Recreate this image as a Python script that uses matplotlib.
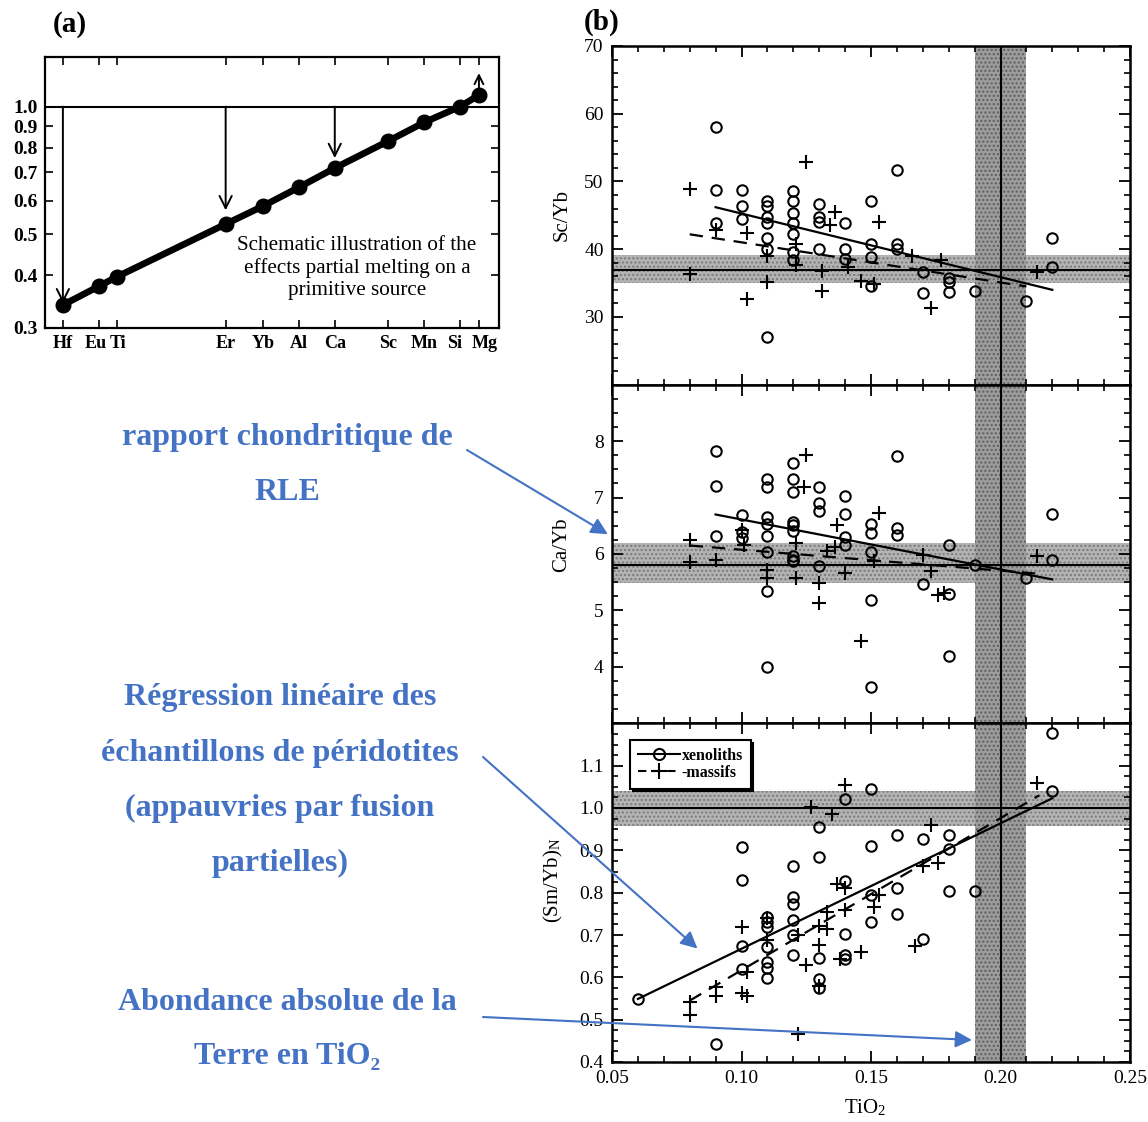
import matplotlib
matplotlib.use('Agg')
import matplotlib.pyplot as plt
import matplotlib.transforms as mtransforms
from matplotlib.lines import Line2D
from matplotlib.ticker import FixedLocator, MultipleLocator, NullLocator, FixedFormatter

plt.rcParams['font.family'] = ['Liberation Serif', 'DejaVu Serif']
plt.rcParams['mathtext.fontset'] = 'stix'
plt.rcParams['hatch.linewidth'] = 1.0

# ---------------- Panel (a) data ----------------
elements = ['Hf', 'Eu', 'Ti', 'Er', 'Yb', 'Al', 'Ca', 'Sc', 'Mn', 'Si', 'Mg']
element_pos = [0, 1.0, 1.47, 4.46, 5.48, 6.47, 7.45, 8.9, 9.9, 10.88, 11.4]
melt_ratio = [0.34, 0.377, 0.396, 0.528, 0.582, 0.645, 0.716, 0.828, 0.918, 1.0, 1.065]
arrow_elements = ['Hf', 'Er', 'Ca']
arrow_tips = [0.343, 0.569, 0.756]
mg_arrow_tip = 1.2
a_yticks = [0.3, 0.4, 0.5, 0.6, 0.7, 0.8, 0.9, 1.0]
a_ylabels = ['0.3', '0.4', '0.5', '0.6', '0.7', '0.8', '0.9', '1.0']

# ---------------- Panel (b) data ----------------
tio2_ref = 0.20
tio2_band = [0.19, 0.21]
x_ticks = [0.05, 0.10, 0.15, 0.20, 0.25]
x_ticklabels = ['0.05', '0.10', '0.15', '0.20', '0.25']

# Sc/Yb
sc_xen_x = [0.09, 0.09, 0.09, 0.10, 0.10, 0.10,
            0.11, 0.11, 0.11, 0.11, 0.11, 0.11, 0.11,
            0.12, 0.12, 0.12, 0.12, 0.12, 0.12, 0.12,
            0.13, 0.13, 0.13, 0.13, 0.14, 0.14, 0.14,
            0.15, 0.15, 0.15, 0.15, 0.16, 0.16, 0.16,
            0.17, 0.17, 0.18, 0.18, 0.18, 0.19, 0.21, 0.22, 0.22]
sc_xen_y = [58.1, 48.7, 43.8, 48.7, 46.4, 44.4,
            47.1, 46.4, 44.7, 43.8, 41.6, 40.1, 27.1,
            48.6, 47.1, 45.3, 43.9, 42.3, 39.6, 38.4,
            46.6, 44.8, 44.0, 40.1, 43.8, 40.0, 38.6,
            47.1, 40.8, 38.8, 34.5, 51.7, 40.8, 40.1,
            36.7, 33.5, 35.7, 35.1, 33.7, 33.9, 32.4, 41.7, 37.3]
sc_mas_x = [0.08, 0.08, 0.09, 0.102, 0.102, 0.11, 0.11, 0.121, 0.121, 0.125, 0.131,
            0.131, 0.134, 0.136, 0.141, 0.146, 0.151, 0.153, 0.166, 0.173, 0.177, 0.214]
sc_mas_y = [48.9, 36.3, 42.8, 42.4, 32.7, 39.0, 35.1, 40.8, 37.6, 52.9, 36.8,
            33.8, 43.6, 45.5, 37.4, 35.3, 34.9, 44.0, 39.0, 31.3, 38.4, 36.7]
sc_xen_fit_x = [0.09, 0.22]
sc_xen_fit_y = [46.2, 34.0]
sc_mas_fit_x = [0.08, 0.21]
sc_mas_fit_y = [42.2, 34.5]
sc_ref = 37.0
sc_band = [35.0, 39.1]
sc_yticks = [30, 40, 50, 60, 70]

# Ca/Yb
ca_xen_x = [0.09, 0.09, 0.09, 0.10, 0.10, 0.10,
            0.11, 0.11, 0.11, 0.11, 0.11, 0.11, 0.11, 0.11,
            0.12, 0.12, 0.12, 0.12, 0.12, 0.12, 0.12, 0.12, 0.12,
            0.13, 0.13, 0.13, 0.13, 0.14, 0.14, 0.14, 0.14,
            0.15, 0.15, 0.15, 0.15, 0.15, 0.16, 0.16, 0.16,
            0.17, 0.18, 0.18, 0.18, 0.19, 0.21, 0.22, 0.22]
ca_xen_y = [7.82, 7.2, 6.32, 6.69, 6.39, 6.28,
            7.33, 7.18, 6.65, 6.53, 6.32, 6.03, 5.34, 4.0,
            7.62, 7.33, 7.1, 6.57, 6.51, 6.41, 5.96, 5.9, 5.87,
            7.18, 6.91, 6.76, 5.78, 7.02, 6.71, 6.31, 6.16,
            6.53, 6.37, 6.03, 5.19, 3.64, 7.73, 6.46, 6.33,
            5.46, 6.16, 5.29, 4.2, 5.8, 5.58, 6.71, 5.9]
ca_mas_x = [0.08, 0.08, 0.09, 0.10, 0.101, 0.11, 0.11, 0.121, 0.121, 0.124, 0.125,
            0.13, 0.13, 0.133, 0.136, 0.137, 0.14, 0.146, 0.151, 0.153, 0.17,
            0.173, 0.176, 0.178, 0.214]
ca_mas_y = [6.25, 5.85, 5.9, 6.43, 6.16, 5.71, 5.58, 6.2, 5.58, 7.18, 7.76,
            5.49, 5.14, 6.05, 6.13, 6.51, 5.66, 4.46, 5.87, 6.72, 5.99,
            5.69, 5.28, 5.31, 5.96]
ca_xen_fit_x = [0.09, 0.22]
ca_xen_fit_y = [6.7, 5.55]
ca_mas_fit_x = [0.08, 0.215]
ca_mas_fit_y = [6.15, 5.65]
ca_ref = 5.8
ca_band = [5.48, 6.2]
ca_yticks = [4, 5, 6, 7, 8]

# (Sm/Yb)N
sm_xen_x = [0.06, 0.09, 0.10, 0.10, 0.10, 0.10,
            0.11, 0.11, 0.11, 0.11, 0.11, 0.11, 0.11,
            0.12, 0.12, 0.12, 0.12, 0.12, 0.12,
            0.13, 0.13, 0.13, 0.13, 0.13,
            0.14, 0.14, 0.14, 0.14, 0.14,
            0.15, 0.15, 0.15, 0.15, 0.16, 0.16, 0.16,
            0.17, 0.17, 0.18, 0.18, 0.18, 0.19, 0.22, 0.22]
sm_xen_y = [0.549, 0.443, 0.908, 0.83, 0.673, 0.62,
            0.742, 0.73, 0.718, 0.671, 0.636, 0.622, 0.598,
            0.864, 0.79, 0.773, 0.735, 0.70, 0.652,
            0.955, 0.885, 0.645, 0.597, 0.575,
            1.021, 0.828, 0.702, 0.653, 0.644,
            1.045, 0.91, 0.794, 0.731, 0.937, 0.812, 0.75,
            0.927, 0.691, 0.937, 0.903, 0.804, 0.804, 1.178, 1.039]
sm_mas_x = [0.08, 0.08, 0.09, 0.09, 0.10, 0.10, 0.102, 0.102, 0.11, 0.11,
            0.122, 0.122, 0.125, 0.127, 0.13, 0.13, 0.13, 0.133, 0.133, 0.135,
            0.137, 0.138, 0.14, 0.14, 0.14, 0.146, 0.151, 0.153, 0.167, 0.17,
            0.173, 0.176, 0.214]
sm_mas_y = [0.512, 0.541, 0.556, 0.577, 0.718, 0.562, 0.612, 0.556, 0.74, 0.688,
            0.70, 0.465, 0.628, 1.002, 0.722, 0.677, 0.58, 0.754, 0.714, 0.985,
            0.82, 0.643, 1.055, 0.81, 0.76, 0.659, 0.766, 0.795, 0.675, 0.864,
            0.96, 0.87, 1.059]
sm_xen_fit_x = [0.06, 0.22]
sm_xen_fit_y = [0.549, 1.023]
sm_mas_fit_x = [0.08, 0.215]
sm_mas_fit_y = [0.545, 1.03]
sm_ref = 1.0
sm_band = [0.957, 1.041]
sm_yticks = [0.4, 0.5, 0.6, 0.7, 0.8, 0.9, 1.0, 1.1]

# annotations
blue = '#4472C4'
note1 = ['rapport chondritique de', 'RLE']
note2 = ['Régression linéaire des', 'échantillons de péridotites',
         '(appauvries par fusion', 'partielles)']
note3 = ['Abondance absolue de la', 'Terre en TiO₂']

W, H = 1148, 1122
fig = plt.figure(figsize=(W / 100, H / 100), dpi=100)


def fx(px):
    return px / W


def fy(py):
    return 1 - py / H


# ---------------- Panel (a) ----------------
axa = fig.add_axes([fx(45), fy(328), fx(499) - fx(45), fy(57) - fy(328)])
axa.set_yscale('log')
axa.set_xlim(-0.49, 11.95)
axa.set_ylim(0.3, 1.31)
axa.axhline(1.0, color='black', lw=1.5, zorder=1)
axa.plot(element_pos, melt_ratio, color='black', lw=4.8, marker='o', ms=10.5,
         mfc='black', mec='black', zorder=3)
for el, tip in zip(arrow_elements, arrow_tips):
    xp = element_pos[elements.index(el)]
    axa.annotate('', xy=(xp, tip), xytext=(xp, 1.0),
                 arrowprops=dict(arrowstyle='->', color='black', lw=1.4,
                                 mutation_scale=22, shrinkA=0, shrinkB=0))
xmg = element_pos[elements.index('Mg')]
axa.annotate('', xy=(xmg, mg_arrow_tip), xytext=(xmg, melt_ratio[-1]),
             arrowprops=dict(arrowstyle='->', color='black', lw=1.4,
                             mutation_scale=16, shrinkA=0, shrinkB=0))
axa.yaxis.set_major_locator(FixedLocator(a_yticks))
axa.yaxis.set_major_formatter(FixedFormatter(a_ylabels))
axa.yaxis.set_minor_locator(NullLocator())
axa.set_xticks(element_pos)
axa.set_xticklabels(elements, fontweight='bold')
axa.tick_params(direction='in', top=True, right=True, length=6, width=1.2,
                labelsize=14, pad=5)
axa.tick_params(axis='x', labelsize=13)
for lab in axa.get_yticklabels():
    lab.set_fontweight('bold')
# small sideways nudges so neighbouring element labels do not collide
label_nudge = {'Eu': -4, 'Ti': 2, 'Si': -5, 'Mg': 6}
for lab in axa.get_xticklabels():
    dx = label_nudge.get(lab.get_text(), 0)
    if dx:
        lab.set_transform(lab.get_transform() +
                          mtransforms.ScaledTranslation(dx / 100, 0, fig.dpi_scale_trans))
for s in axa.spines.values():
    s.set_linewidth(1.6)
axa.text(0.687, 0.222, 'Schematic illustration of the\neffects partial melting on a\nprimitive source',
         transform=axa.transAxes, ha='center', va='center', fontsize=15.2,
         linespacing=1.22)
fig.text(fx(70), fy(25), '(a)', fontsize=21, fontweight='bold', ha='center', va='center')
fig.text(fx(602), fy(22), '(b)', fontsize=21, fontweight='bold', ha='center', va='center')

# ---------------- Panel (b) ----------------
left, right = fx(612), fx(1130)
top, bottom = fy(46), fy(1062)
ph = (top - bottom) / 3

panels = [
    dict(xx=sc_xen_x, xy=sc_xen_y, mx=sc_mas_x, my=sc_mas_y,
         xfx=sc_xen_fit_x, xfy=sc_xen_fit_y, mfx=sc_mas_fit_x, mfy=sc_mas_fit_y,
         ref=sc_ref, band=sc_band, yt=sc_yticks, ylim=(20, 70), minor=2,
         fmt='{:.0f}', label='Sc/Yb'),
    dict(xx=ca_xen_x, xy=ca_xen_y, mx=ca_mas_x, my=ca_mas_y,
         xfx=ca_xen_fit_x, xfy=ca_xen_fit_y, mfx=ca_mas_fit_x, mfy=ca_mas_fit_y,
         ref=ca_ref, band=ca_band, yt=ca_yticks, ylim=(3, 9), minor=0.25,
         fmt='{:.0f}', label='Ca/Yb'),
    dict(xx=sm_xen_x, xy=sm_xen_y, mx=sm_mas_x, my=sm_mas_y,
         xfx=sm_xen_fit_x, xfy=sm_xen_fit_y, mfx=sm_mas_fit_x, mfy=sm_mas_fit_y,
         ref=sm_ref, band=sm_band, yt=sm_yticks, ylim=(0.4, 1.2), minor=0.025,
         fmt='{:.1f}', label='(Sm/Yb)$_\\mathregular{N}$'),
]
label_pos = [(562, 215), (562, 545), (553, 880)]

axes_b = []
for i, p in enumerate(panels):
    ax = fig.add_axes([left, top - (i + 1) * ph, right - left, ph])
    axes_b.append(ax)
    ax.set_xlim(0.05, 0.25)
    ax.set_ylim(*p['ylim'])
    ax.axhspan(p['band'][0], p['band'][1], facecolor='#b3b3b3', edgecolor='#7a7a7a',
               hatch='....', lw=0, zorder=0)
    ax.axvspan(tio2_band[0], tio2_band[1], facecolor='#9c9c9c', edgecolor='#5e5e5e',
               hatch='....', lw=0, zorder=0.5)
    ax.axhline(p['ref'], color='black', lw=1.5, zorder=1)
    ax.axvline(tio2_ref, color='black', lw=1.5, zorder=1)
    ax.plot(p['xfx'], p['xfy'], color='black', lw=1.6, ls='-', zorder=2)
    ax.plot(p['mfx'], p['mfy'], color='black', lw=1.6, ls=(0, (6, 4)), zorder=2)
    ax.plot(p['xx'], p['xy'], ls='none', marker='o', ms=7.5, mfc='none',
            mec='black', mew=1.5, zorder=3)
    ax.plot(p['mx'], p['my'], ls='none', marker='+', ms=10, mec='black',
            mew=1.5, zorder=3)
    ax.yaxis.set_major_locator(FixedLocator(p['yt']))
    ax.yaxis.set_major_formatter(FixedFormatter([p['fmt'].format(v) for v in p['yt']]))
    ax.yaxis.set_minor_locator(MultipleLocator(p['minor']))
    ax.xaxis.set_major_locator(FixedLocator(x_ticks))
    ax.xaxis.set_minor_locator(MultipleLocator(0.01))
    if i == 2:
        ax.xaxis.set_major_formatter(FixedFormatter(x_ticklabels))
    else:
        ax.tick_params(labelbottom=False)
    ax.tick_params(which='major', direction='in', top=True, right=True, length=8,
                   width=1.3, labelsize=14, pad=6)
    ax.tick_params(which='minor', direction='in', top=True, right=True, length=4,
                   width=1.2)
    for s in ax.spines.values():
        s.set_linewidth(1.8)
    lx, ly = label_pos[i]
    fig.text(fx(lx), fy(ly), p['label'], rotation=90, ha='center', va='center',
             fontsize=15)

fig.text(fx(865), fy(1108), 'TiO$_\\mathregular{2}$', ha='center', va='center', fontsize=15)

handles = [Line2D([], [], color='black', ls='-', lw=1.5, marker='o', ms=8,
                  mfc='none', mec='black', mew=1.5),
           Line2D([], [], color='black', ls=(0, (4, 3)), lw=1.5, marker='+', ms=11,
                  mew=1.5)]
leg = axes_b[2].legend(handles, ['xenoliths', '-massifs'], loc='upper left',
                       bbox_to_anchor=(0.02, 0.975), frameon=True, fancybox=False,
                       shadow={'color': 'black', 'alpha': 1.0},
                       edgecolor='black', framealpha=1,
                       prop={'weight': 'bold', 'size': 11.5}, handlelength=2.6,
                       handletextpad=0.1, borderpad=0.5, labelspacing=0.05)
leg.get_frame().set_linewidth(1.5)
leg.set_zorder(5)

# ---------------- blue annotations ----------------
for k, line in enumerate(note1):
    fig.text(fx(287), fy(438 + 54 * k), line, ha='center', va='center', color=blue,
             fontsize=23, fontweight='bold')
for k, line in enumerate(note2):
    fig.text(fx(280), fy(698 + 55 * k), line, ha='center', va='center', color=blue,
             fontsize=23, fontweight='bold')
for k, line in enumerate(note3):
    fig.text(fx(287), fy(1002 + 55 * k), line, ha='center', va='center', color=blue,
             fontsize=23, fontweight='bold')

arrow_kw = dict(arrowstyle='-|>', color=blue, lw=1.5, mutation_scale=25,
                shrinkA=0, shrinkB=0)
axes_b[1].annotate('', xy=(0.0484, 6.35), xycoords='data',
                   xytext=(467, H - 450), textcoords='figure pixels',
                   arrowprops=arrow_kw, annotation_clip=False)
axes_b[2].annotate('', xy=(0.083, 0.668), xycoords='data',
                   xytext=(483, H - 757), textcoords='figure pixels',
                   arrowprops=arrow_kw, annotation_clip=False)
axes_b[2].annotate('', xy=(0.189, 0.452), xycoords='data',
                   xytext=(483, H - 1017), textcoords='figure pixels',
                   arrowprops=arrow_kw, annotation_clip=False)

fig.savefig('out.png', dpi=100)
